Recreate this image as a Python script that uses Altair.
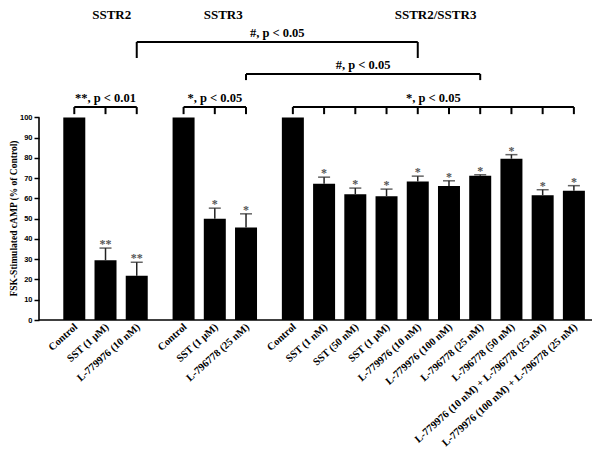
import altair as alt
import pandas as pd

# ---------------- data ----------------
group_names = ["SSTR2", "SSTR3", "SSTR2/SSTR3"]
group_labels = [
    ["Control", "SST (1 μM)", "L-779976 (10 nM)"],
    ["Control", "SST (1 μM)", "L-796778 (25 nM)"],
    ["Control", "SST (1 nM)", "SST (50 nM)", "SST (1 μM)", "L-779976 (10 nM)",
     "L-779976 (100 nM)", "L-796778 (25 nM)", "L-796778 (50 nM)",
     "L-779976 (10 nM) + L-796778 (25 nM)", "L-779976 (100 nM) + L-796778 (25 nM)"],
]
group_values = [
    [100, 29.5, 21.8],
    [100, 50.0, 45.7],
    [100, 67.2, 62.1, 61.1, 68.4, 66.1, 71.2, 79.6, 61.6, 63.8],
]
group_errors = [
    [0, 6.0, 6.7],
    [0, 5.2, 6.7],
    [0, 3.3, 3.0, 3.5, 2.6, 2.6, 0.5, 2.0, 2.7, 2.5],
]
group_stars = [
    ["", "**", "**"],
    ["", "*", "*"],
    ["", "*", "*", "*", "*", "*", "*", "*", "*", "*"],
]
group_test_text = ["**, p < 0.01", "*, p < 0.05", "*, p < 0.05"]
# cross-group comparisons: (text, (group, bar), (group, bar))
cross_tests = [
    ("#, p < 0.05", (0, 2), (2, 4)),
    ("#, p < 0.05", (1, 2), (2, 6)),
]
y_ticks = list(range(0, 101, 10))
y_title = "FSK-Stimulated cAMP (% of Control)"

# ---------------- layout ----------------
W, H = 553, 310
GAP = 0.5
SERIF = "Liberation Serif"
xs = alt.Scale(domain=[-0.97, 16.42], nice=False, zero=False)
ys = alt.Scale(domain=[0, 153], nice=False, zero=False)

yaxis = alt.Axis(
    values=y_ticks, domain=False, grid=False, tickSize=5, tickWidth=1.5,
    tickColor="black", labelFont="Liberation Sans", labelFontSize=7.5,
    labelFontWeight="bold", labelColor="black", labelPadding=2,
    title=y_title, titleFont=SERIF, titleFontSize=9.5, titleFontWeight="bold",
    titleColor="black", titleX=-26, titleY=208, titleBaseline="middle")

rows, pos_of = [], {}
idx = 0
for g, (labs, vals, errs, stars) in enumerate(zip(group_labels, group_values, group_errors, group_stars)):
    for b, (lab, v, e, s) in enumerate(zip(labs, vals, errs, stars)):
        p = idx + g * GAP
        pos_of[(g, b)] = p
        rows.append(dict(pos=p, label=lab, value=v, err=e, top=v + e, star=s))
        idx += 1
df = pd.DataFrame(rows)
df["lab_x"] = df["pos"] + 0.06
df["lab_y"] = -2.8
df_err = df[df["err"] > 0]

# brackets
hseg, vseg, btxt = [], [], []
GROUP_LEVEL, GROUP_LEG = 105.1, 101.6
for g, txt in enumerate(group_test_text):
    ps = [pos_of[(g, b)] for b in range(len(group_labels[g]))]
    hseg.append(dict(x1=min(ps), x2=max(ps), y=GROUP_LEVEL))
    for p in ps:
        vseg.append(dict(x=p, y1=GROUP_LEG, y2=GROUP_LEVEL))
    btxt.append(dict(x=(min(ps) + max(ps)) / 2, y=GROUP_LEVEL + 4.4, t=txt))
cross_levels = [(137.2, 129.3), (121.4, 118.4)]
for (txt, a, b), (lvl, leg) in zip(cross_tests, cross_levels):
    pa, pb = pos_of[a], pos_of[b]
    hseg.append(dict(x1=pa, x2=pb, y=lvl))
    vseg.append(dict(x=pa, y1=leg, y2=lvl))
    vseg.append(dict(x=pb, y1=leg, y2=lvl))
    btxt.append(dict(x=(pa + pb) / 2, y=lvl + 4.3, t=txt))
hseg, vseg, btxt = pd.DataFrame(hseg), pd.DataFrame(vseg), pd.DataFrame(btxt)

title_x = [1.2, 4.77, 11.57]
titles = pd.DataFrame(dict(x=title_x, y=[150.4] * 3, t=group_names))

X = lambda f: alt.X(f, scale=xs, axis=None)
Y = lambda f: alt.Y(f, scale=ys, axis=yaxis)

bars = alt.Chart(df).mark_bar(size=22, color="black").encode(
    x=X("pos:Q"), y=Y("value:Q"))
err_line = alt.Chart(df_err).mark_rule(color="#222", strokeWidth=1.5).encode(
    x=X("pos:Q"), y=Y("value:Q"), y2="top:Q")
err_cap = alt.Chart(df_err).mark_tick(orient="horizontal", size=12, thickness=1.5, color="#222").encode(
    x=X("pos:Q"), y=Y("top:Q"))
stars = alt.Chart(df_err).mark_text(font=SERIF, fontSize=12, fontWeight="bold", color="#555",
                                    baseline="alphabetic").encode(
    x=X("pos:Q"), y=Y("top:Q"), text="star:N")
xlabels = alt.Chart(df).mark_text(font=SERIF, fontSize=10.5, fontWeight="bold", color="black",
                                  angle=318, align="right", baseline="middle").encode(
    x=X("lab_x:Q"), y=Y("lab_y:Q"), text="label:N")

yline = alt.Chart(pd.DataFrame({"a": [0], "b": [100]})).mark_rule(color="black", strokeWidth=1.6).encode(
    x=alt.value(0), y=Y("a:Q"), y2="b:Q")
xline = alt.Chart(pd.DataFrame({"a": [0]})).mark_rule(color="black", strokeWidth=1.6).encode(
    y=Y("a:Q"), x=alt.value(0), x2=alt.value(W))

h_br = alt.Chart(hseg).mark_rule(color="black", strokeWidth=2).encode(
    x=X("x1:Q"), x2="x2:Q", y=Y("y:Q"))
v_br = alt.Chart(vseg).mark_rule(color="black", strokeWidth=2).encode(
    x=X("x:Q"), y=Y("y1:Q"), y2="y2:Q")
br_txt = alt.Chart(btxt).mark_text(font=SERIF, fontSize=12.5, fontWeight="bold", color="black",
                                   baseline="middle").encode(
    x=X("x:Q"), y=Y("y:Q"), text="t:N")
title_txt = alt.Chart(titles).mark_text(font=SERIF, fontSize=13, fontWeight="bold", color="black",
                                        baseline="middle").encode(
    x=X("x:Q"), y=Y("y:Q"), text="t:N")

chart = alt.layer(
    bars, err_line, err_cap, stars, xlabels, yline, xline, h_br, v_br, br_txt, title_txt
).properties(
    width=W, height=H, autosize="none",
    padding={"left": 31, "top": 2, "right": 0, "bottom": 133},
    background="white",
).configure_view(stroke=None)

chart.save("out.html", embed_options={"renderer": "svg", "actions": False})
